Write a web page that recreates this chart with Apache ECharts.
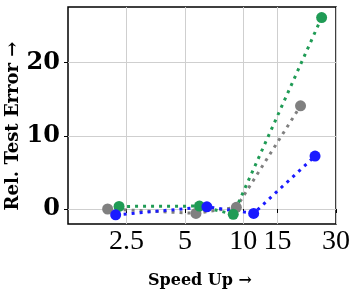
<!DOCTYPE html>
<html><head><meta charset="utf-8">
<script src="https://cdn.jsdelivr.net/npm/echarts@6/dist/echarts.min.js"></script>
<style>html,body{margin:0;padding:0;background:#fff}#c{width:356px;height:296px}</style>
</head><body><div id="c"></div>
<script>
const xTicks = [2.5, 5, 10, 15, 30];
const yTicks = [0, 10, 20];
const greenX = [2.29, 5.94, 8.87, 25.3];
const greenY = [0.35, 0.4, -0.72, 26.15];
const grayX = [2.0, 5.7, 9.2, 19.7];
const grayY = [0.0, -0.6, 0.23, 14.1];
const blueX = [2.2, 6.49, 11.3, 23.4];
const blueY = [-0.8, 0.3, -0.6, 7.23];

function pairs(xs, ys){ return xs.map((x,i)=>[x, ys[i]]); }
function mk(name, xs, ys, color){
  return {name, type:'line', data:pairs(xs,ys), symbol:'circle', symbolSize:11,
    itemStyle:{color}, lineStyle:{color, width:3, type:[3,5], cap:'butt'}, animation:false};
}
const chart = echarts.init(document.getElementById('c'), null, {renderer:'canvas'});
chart.setOption({
  backgroundColor:'#fff',
  animation:false,
  grid:{left:68, right:20, top:7, bottom:72, show:true, borderColor:'#000', borderWidth:1.5, backgroundColor:'transparent'},
  xAxis:{type:'log', logBase:2, min:1.25, max:30,
    axisLine:{show:false},
    axisTick:{show:true, customValues:xTicks, length:4, lineStyle:{color:'#000', width:1}},
    axisLabel:{customValues:xTicks, fontFamily:'Liberation Serif', fontSize:28, color:'#000', margin:4, formatter:v=>String(v)},
    splitLine:{show:true, lineStyle:{color:'#cfcfcf', width:1}}
  },
  yAxis:{type:'value', min:-2.05, max:27.6,
    axisLine:{show:false},
    axisTick:{show:true, customValues:yTicks, length:4, lineStyle:{color:'#000', width:1}},
    axisLabel:{customValues:yTicks, fontFamily:'DejaVu Serif', fontWeight:'bold', fontSize:24, color:'#000', margin:8},
    splitLine:{show:true, lineStyle:{color:'#cfcfcf', width:1}}
  },
  graphic:[
    {type:'text', x:200, y:281, style:{text:'Speed Up →', font:'bold 16px "DejaVu Serif"', fill:'#000', align:'center', verticalAlign:'middle'}},
    {type:'text', rotation:Math.PI/2, x:13, y:126, style:{text:'Rel. Test Error →', font:'bold 18px "DejaVu Serif"', fill:'#000', align:'center', verticalAlign:'middle'}}
  ],
  series:[
    mk('gray', grayX, grayY, '#808080'),
    mk('green', greenX, greenY, '#1f9b55'),
    mk('blue', blueX, blueY, '#1a1aff')
  ]
});
</script></body></html>
